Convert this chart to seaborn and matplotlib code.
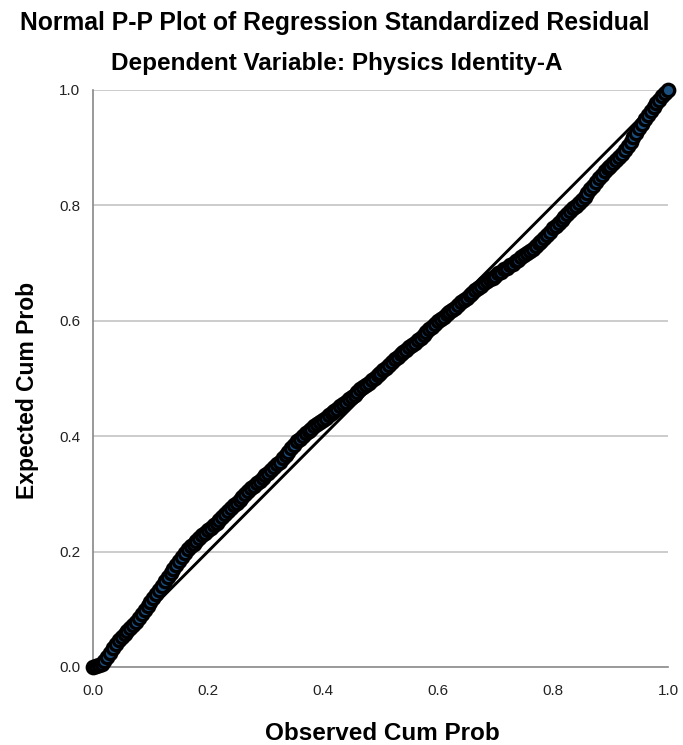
import matplotlib
matplotlib.use("Agg")
import matplotlib.pyplot as plt
import seaborn as sns
import pandas as pd

observed_cum_prob = [
    0.000, 0.005, 0.010, 0.015, 0.020, 0.025, 0.030, 0.035, 0.040, 0.045,
    0.050, 0.055, 0.060, 0.065, 0.070, 0.075, 0.080, 0.085, 0.090, 0.095,
    0.100, 0.105, 0.110, 0.115, 0.120, 0.125, 0.130, 0.135, 0.140, 0.145,
    0.150, 0.155, 0.160, 0.165, 0.170, 0.175, 0.180, 0.185, 0.190, 0.195,
    0.200, 0.205, 0.210, 0.215, 0.220, 0.225, 0.230, 0.235, 0.240, 0.245,
    0.250, 0.255, 0.260, 0.265, 0.270, 0.275, 0.280, 0.285, 0.290, 0.295,
    0.300, 0.305, 0.310, 0.315, 0.320, 0.325, 0.330, 0.335, 0.340, 0.345,
    0.350, 0.355, 0.360, 0.365, 0.370, 0.375, 0.380, 0.385, 0.390, 0.395,
    0.400, 0.405, 0.410, 0.415, 0.420, 0.425, 0.430, 0.435, 0.440, 0.445,
    0.450, 0.455, 0.460, 0.465, 0.470, 0.475, 0.480, 0.485, 0.490, 0.495,
    0.500, 0.505, 0.510, 0.515, 0.520, 0.525, 0.530, 0.535, 0.540, 0.545,
    0.550, 0.555, 0.560, 0.565, 0.570, 0.575, 0.580, 0.585, 0.590, 0.595,
    0.600, 0.605, 0.610, 0.615, 0.620, 0.625, 0.630, 0.635, 0.640, 0.645,
    0.650, 0.655, 0.660, 0.665, 0.670, 0.675, 0.680, 0.685, 0.690, 0.695,
    0.700, 0.705, 0.710, 0.715, 0.720, 0.725, 0.730, 0.735, 0.740, 0.745,
    0.750, 0.755, 0.760, 0.765, 0.770, 0.775, 0.780, 0.785, 0.790, 0.795,
    0.800, 0.805, 0.810, 0.815, 0.820, 0.825, 0.830, 0.835, 0.840, 0.845,
    0.850, 0.855, 0.860, 0.865, 0.870, 0.875, 0.880, 0.885, 0.890, 0.895,
    0.900, 0.905, 0.910, 0.915, 0.920, 0.925, 0.930, 0.935, 0.940, 0.945,
    0.950, 0.955, 0.960, 0.965, 0.970, 0.975, 0.980, 0.985, 0.990, 0.995,
    1.000,
]
expected_cum_prob = [
    0.000, 0.001, 0.003, 0.006, 0.010, 0.017, 0.025, 0.033, 0.040, 0.046,
    0.052, 0.057, 0.062, 0.067, 0.072, 0.078, 0.085, 0.091, 0.098, 0.106,
    0.113, 0.120, 0.127, 0.134, 0.141, 0.149, 0.156, 0.163, 0.170, 0.177,
    0.184, 0.191, 0.198, 0.204, 0.209, 0.214, 0.219, 0.224, 0.228, 0.233,
    0.237, 0.241, 0.246, 0.250, 0.255, 0.260, 0.265, 0.270, 0.275, 0.280,
    0.285, 0.290, 0.295, 0.300, 0.305, 0.310, 0.314, 0.319, 0.323, 0.328,
    0.332, 0.337, 0.341, 0.346, 0.351, 0.356, 0.362, 0.367, 0.373, 0.379,
    0.385, 0.391, 0.396, 0.401, 0.405, 0.409, 0.413, 0.417, 0.421, 0.425,
    0.428, 0.432, 0.436, 0.440, 0.444, 0.448, 0.452, 0.456, 0.460, 0.464,
    0.468, 0.472, 0.476, 0.481, 0.485, 0.489, 0.493, 0.497, 0.501, 0.506,
    0.510, 0.515, 0.519, 0.524, 0.528, 0.533, 0.537, 0.542, 0.546, 0.550,
    0.554, 0.558, 0.562, 0.567, 0.571, 0.576, 0.580, 0.585, 0.590, 0.595,
    0.599, 0.603, 0.607, 0.611, 0.615, 0.619, 0.623, 0.628, 0.632, 0.636,
    0.640, 0.644, 0.648, 0.653, 0.657, 0.661, 0.665, 0.669, 0.672, 0.675,
    0.678, 0.682, 0.685, 0.689, 0.692, 0.696, 0.699, 0.703, 0.706, 0.710,
    0.714, 0.718, 0.721, 0.725, 0.729, 0.734, 0.738, 0.743, 0.748, 0.754,
    0.760, 0.765, 0.770, 0.775, 0.780, 0.785, 0.790, 0.795, 0.799, 0.804,
    0.809, 0.815, 0.821, 0.828, 0.834, 0.841, 0.847, 0.853, 0.859, 0.864,
    0.869, 0.874, 0.879, 0.884, 0.889, 0.896, 0.903, 0.910, 0.918, 0.926,
    0.934, 0.941, 0.949, 0.957, 0.964, 0.971, 0.977, 0.983, 0.989, 0.995,
    1.000,
]
reference_line = [0.0, 1.0]
tick_values = [0.0, 0.2, 0.4, 0.6, 0.8, 1.0]
tick_labels = ["0.0", "0.2", "0.4", "0.6", "0.8", "1.0"]

sns.set_style("white")
plt.rcParams["font.family"] = ["Liberation Sans", "DejaVu Sans"]

df = pd.DataFrame({"obs": observed_cum_prob, "exp": expected_cum_prob})
line_df = pd.DataFrame({"x": reference_line, "y": reference_line})

fig = plt.figure(figsize=(6.83, 7.45), dpi=100)
ax = fig.add_axes([0.136, 0.1047, 0.842, 0.7745])

for v in tick_values[1:]:
    ax.axhline(v, color="#c8c8c8", lw=1.3, zorder=0)

sns.lineplot(data=line_df, x="x", y="y", ax=ax, color="black", lw=2.1, zorder=2)
sns.scatterplot(data=df, x="obs", y="exp", ax=ax, s=80, color="#1d4f7e",
                edgecolor="black", linewidth=2.4, zorder=3, clip_on=False)

ax.set_xlim(0, 1)
ax.set_ylim(0, 1)
ax.set_xticks(tick_values)
ax.set_xticklabels(tick_labels)
ax.set_yticks(tick_values)
ax.set_yticklabels(tick_labels)
ax.tick_params(axis="both", length=0, labelsize=11, colors="#222222")
ax.tick_params(axis="x", pad=12)
ax.tick_params(axis="y", pad=9)

for side in ["top", "right"]:
    ax.spines[side].set_visible(False)
for side in ["left", "bottom"]:
    ax.spines[side].set_color("#888888")
    ax.spines[side].set_linewidth(1.2)

ax.set_xlabel("Observed Cum Prob", fontsize=17.5, fontweight="bold", color="black")
ax.set_ylabel("Expected Cum Prob", fontsize=16.5, fontweight="bold", color="black")
ax.xaxis.set_label_coords(0.503, -0.095)
ax.yaxis.set_label_coords(-0.094, 0.48)

fig.text(0.4905, 0.9597, "Normal P-P Plot of Regression Standardized Residual",
         ha="center", va="baseline", fontsize=17.8, fontweight="bold", color="black")
fig.text(0.4925, 0.906, "Dependent Variable: Physics Identity-A",
         ha="center", va="baseline", fontsize=17.5, fontweight="bold", color="black")

fig.savefig("out.png", dpi=100)
